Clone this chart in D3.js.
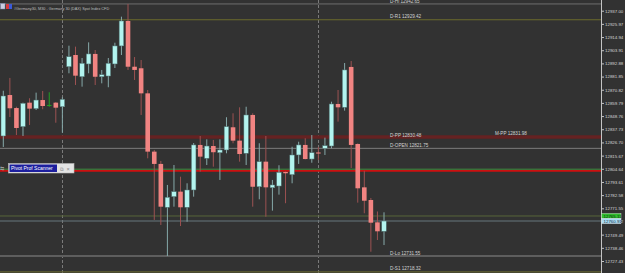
<!DOCTYPE html>
<html>
<head>
<meta charset="utf-8">
<script src="https://cdn.jsdelivr.net/npm/d3@7"></script>
<style>
  html, body { margin: 0; padding: 0; background: #323232; overflow: hidden; }
  #container svg { display: block; }
  text { font-family: "Liberation Sans", Arial, sans-serif; }
</style>
</head>
<body>
<div id="container"></div>
<script>
/*==================================================
    DATA  (#Germany30, M30)
===================================================*/
const open = [12832.1, 12866.4, 12855.5, 12839.9, 12860.0, 12855.0, 12862.2, 12858.1, 12860.0, 12856.6,
  12890.1, 12899.9, 12881.7, 12892.4, 12900.8, 12881.7, 12882.3, 12892.4, 12907.5, 12928.4,
  12890.1, 12888.8, 12867.8, 12819.0, 12808.7, 12772.4, 12781.3, 12785.5, 12772.4, 12786.9,
  12824.6, 12813.4, 12823.7, 12818.1, 12820.4, 12839.4, 12828.2, 12817.6, 12849.7, 12789.6,
  12810.6, 12788.8, 12790.2, 12802.0, 12799.7, 12816.2, 12824.6, 12812.8, 12818.3, 12821.8,
  12823.7, 12858.9, 12856.1, 12889.9, 12825.4, 12789.1, 12778.5, 12759.8, 12752.3];
const high = [12870.0, 12880.7, 12856.6, 12860.0, 12863.7, 12868.4, 12869.8, 12868.7, 12860.5, 12864.5,
  12907.7, 12906.9, 12897.4, 12910.5, 12904.1, 12887.4, 12897.4, 12910.2, 12932.0, 12942.65,
  12898.2, 12895.7, 12870.6, 12820.4, 12811.2, 12791.1, 12807.8, 12798.0, 12792.5, 12826.2,
  12832.1, 12829.3, 12828.8, 12829.3, 12847.8, 12851.1, 12856.1, 12856.6, 12851.1, 12826.0,
  12832.1, 12795.3, 12807.6, 12802.3, 12823.1, 12827.3, 12830.2, 12832.9, 12822.9, 12830.7,
  12860.8, 12870.6, 12893.2, 12894.9, 12825.9, 12803.0, 12780.2, 12768.9, 12768.2];
const low = [12822.9, 12848.0, 12832.9, 12832.1, 12841.3, 12853.9, 12854.5, 12856.6, 12843.2, 12834.9,
  12884.6, 12874.8, 12873.4, 12884.6, 12874.8, 12876.2, 12872.9, 12889.0, 12899.9, 12887.4,
  12879.0, 12849.7, 12813.4, 12761.8, 12757.6, 12731.55, 12772.9, 12756.7, 12760.3, 12781.3,
  12802.2, 12807.8, 12806.4, 12795.3, 12817.6, 12826.0, 12810.6, 12807.8, 12772.9, 12779.1,
  12764.5, 12769.6, 12783.0, 12775.8, 12792.5, 12808.7, 12812.5, 12809.7, 12812.0, 12816.2,
  12821.8, 12844.1, 12853.3, 12805.3, 12776.3, 12767.4, 12735.2, 12745.0, 12740.8];
const close = [12865.6, 12855.3, 12838.8, 12859.5, 12855.0, 12862.2, 12857.2, 12858.1, 12855.8, 12862.8,
  12898.5, 12882.6, 12893.0, 12900.8, 12881.7, 12883.4, 12893.0, 12907.5, 12928.4, 12890.1,
  12887.4, 12867.8, 12819.0, 12808.7, 12772.9, 12780.8, 12785.5, 12772.4, 12786.9, 12824.6,
  12814.8, 12823.7, 12818.5, 12820.4, 12839.9, 12828.2, 12817.0, 12849.7, 12789.6, 12810.6,
  12789.1, 12791.1, 12801.7, 12800.9, 12816.2, 12824.6, 12812.8, 12818.1, 12817.4, 12824.0,
  12858.9, 12856.1, 12887.4, 12824.6, 12788.3, 12777.9, 12759.5, 12752.3, 12760.91];

// price scale labels
const priceTicks = [12937.00, 12925.97, 12914.94, 12903.91, 12892.88, 12881.85, 12870.82, 12859.79,
  12848.76, 12837.73, 12826.70, 12815.67, 12804.64, 12793.61, 12782.58, 12771.55, 12760.52,
  12749.49, 12738.46, 12727.43];

// pivot levels
const pivotNames = ['D-Hi', 'D-R1', 'M-PP', 'D-PP', 'D-OPEN', 'D-Lo', 'D-S1'];
const pivotValues = [12942.65, 12929.42, 12831.98, 12830.48, 12821.75, 12731.55, 12718.32];

// other chart lines
const askPrice = 12765.11;
const bidPrice = 12760.91;
const extraLevels = [12804.3, 12803.4];   // green / red
const daySeparators = [9, 48];

/*==================================================
    CANVAS
===================================================*/
const W = 625, H = 273;
const plotRight = 601;

const container = d3.select('#container');
const svg = container.append('svg')
  .attr('width', W)
  .attr('height', H);

svg.append('rect')
  .attr('width', W).attr('height', H)
  .attr('fill', '#323232');

// scales
const xScale = d3.scaleLinear()
  .domain([0, open.length - 1])
  .range([3.3, 384]);

const yScale = d3.scaleLinear()
  .domain([12727.43, 12937.00])
  .range([261, 10.7]);

const crisp = v => Math.round(v) + 0.5;

/*==================================================
    SEPARATORS + LEVEL LINES
===================================================*/
svg.selectAll('.sep')
  .data(daySeparators)
  .enter()
  .append('line')
  .attr('class', 'sep')
  .attr('x1', d => crisp(xScale(d) - 0.5)).attr('x2', d => crisp(xScale(d) - 0.5))
  .attr('y1', 0).attr('y2', H)
  .attr('stroke', '#7a7a7a')
  .attr('stroke-width', 1)
  .attr('stroke-dasharray', '3,2');

const pivotStyle = {
  'D-Hi':   { color: '#6e6e6e', w: 1,   tx: 390 },
  'D-R1':   { color: '#6c6b2c', w: 1,   tx: 390 },
  'M-PP':   { color: '#652222', w: 1.6, tx: 495 },
  'D-PP':   { color: '#652222', w: 1.6, tx: 390 },
  'D-OPEN': { color: '#7c7c7c', w: 1,   tx: 390 },
  'D-Lo':   { color: '#5e5e5e', w: 2,   tx: 390 },
  'D-S1':   { color: '#626230', w: 1.3, tx: 390 }
};

const pivots = pivotNames.map((n, i) => ({ name: n, value: pivotValues[i] }));

svg.selectAll('.pivot')
  .data(pivots)
  .enter()
  .append('line')
  .attr('class', 'pivot')
  .attr('x1', 0).attr('x2', plotRight)
  .attr('y1', d => yScale(d.value)).attr('y2', d => yScale(d.value))
  .attr('stroke', d => pivotStyle[d.name].color)
  .attr('stroke-width', d => pivotStyle[d.name].w);

// ask / bid lines
svg.append('line')
  .attr('x1', 0).attr('x2', plotRight)
  .attr('y1', yScale(askPrice)).attr('y2', yScale(askPrice))
  .attr('stroke', '#58663a').attr('stroke-width', 1);
svg.append('line')
  .attr('x1', 0).attr('x2', plotRight)
  .attr('y1', yScale(bidPrice)).attr('y2', yScale(bidPrice))
  .attr('stroke', '#66767c').attr('stroke-width', 1);

// green + red levels
svg.append('line')
  .attr('x1', 0).attr('x2', plotRight)
  .attr('y1', yScale(extraLevels[0])).attr('y2', yScale(extraLevels[0]))
  .attr('stroke', '#3f8f3f').attr('stroke-width', 1);
svg.append('line')
  .attr('x1', 0).attr('x2', plotRight)
  .attr('y1', yScale(extraLevels[1]) + 0.6).attr('y2', yScale(extraLevels[1]) + 0.6)
  .attr('stroke', '#cc1010').attr('stroke-width', 1.8);

/*==================================================
    CANDLES
===================================================*/
const candles = open.map((o, i) => ({ i, o, h: high[i], l: low[i], c: close[i] }));
const kind = d => d.c > d.o ? 'bull' : (d.c < d.o ? 'bear' : 'doji');
const wickColor = { bull: '#86a9a9', bear: '#9c5252', doji: '#22a022' };
const bodyColor = { bull: '#b3f4ef', bear: '#f18482', doji: '#22a022' };
const bodyW = 4.6;

const cg = svg.append('g').attr('class', 'candles');

cg.selectAll('.wick')
  .data(candles)
  .enter()
  .append('line')
  .attr('class', 'wick')
  .attr('x1', d => xScale(d.i)).attr('x2', d => xScale(d.i))
  .attr('y1', d => yScale(d.h)).attr('y2', d => yScale(d.l))
  .attr('stroke', d => wickColor[kind(d)])
  .attr('stroke-width', 1);

cg.selectAll('.body')
  .data(candles)
  .enter()
  .append('rect')
  .attr('class', 'body')
  .attr('x', d => xScale(d.i) - bodyW / 2)
  .attr('width', bodyW)
  .attr('y', d => yScale(Math.max(d.o, d.c)))
  .attr('height', d => Math.max(1, Math.abs(yScale(d.o) - yScale(d.c))))
  .attr('fill', d => bodyColor[kind(d)])
  .attr('stroke', d => kind(d) === 'bull' ? '#4d6f6f' : 'none')
  .attr('stroke-width', 0.5);

/*==================================================
    PRICE AXIS
===================================================*/
svg.append('rect')
  .attr('x', plotRight).attr('y', 0)
  .attr('width', W - plotRight).attr('height', H)
  .attr('fill', '#323232');

svg.append('line')
  .attr('x1', plotRight + 0.5).attr('x2', plotRight + 0.5)
  .attr('y1', 0).attr('y2', H)
  .attr('stroke', '#c4c4c4');

const yAxis = d3.axisRight(yScale)
  .tickValues(priceTicks)
  .tickFormat(d3.format('.2f'))
  .tickSize(2.5)
  .tickPadding(1);

const axisG = svg.append('g')
  .attr('transform', `translate(${plotRight + 0.5}, 0)`)
  .call(yAxis);
axisG.select('.domain').remove();
axisG.selectAll('line').attr('stroke', '#c4c4c4');
axisG.selectAll('text')
  .attr('fill', '#d6d6d6')
  .style('font-size', '4.4px')
  .style('font-family', '"Liberation Sans", Arial, sans-serif');

// ask / bid boxes
const boxes = [
  { v: askPrice, fill: '#2fbf2f', text: '#0c2a0c' },
  { v: bidPrice, fill: '#a9ddf5', text: '#1a2a3a' }
];
const boxG = svg.selectAll('.pbox')
  .data(boxes)
  .enter()
  .append('g')
  .attr('class', 'pbox')
  .attr('transform', d => `translate(${plotRight + 0.5}, ${yScale(d.v)})`);
boxG.append('rect')
  .attr('x', 0).attr('y', -2.6)
  .attr('width', 19.5).attr('height', 5.2)
  .attr('fill', d => d.fill)
  .attr('stroke', '#e8e8e8').attr('stroke-width', 0.4);
boxG.append('text')
  .attr('x', 2).attr('y', 1.6)
  .attr('fill', d => d.text)
  .style('font-size', '4.4px')
  .text(d => d3.format('.2f')(d.v));

/*==================================================
    PIVOT LABELS
===================================================*/
svg.selectAll('.plabel')
  .data(pivots)
  .enter()
  .append('text')
  .attr('class', 'plabel')
  .attr('x', d => pivotStyle[d.name].tx)
  .attr('y', d => yScale(d.value) - 1.4)
  .attr('fill', '#d2d2d2')
  .style('font-size', '4.6px')
  .text(d => `${d.name} ${d3.format('.2f')(d.value)}`);

/*==================================================
    TITLE + SCANNER PANEL
===================================================*/
svg.append('rect').attr('x', 0.5).attr('y', 3.5).attr('width', 4.5).attr('height', 5.5)
  .attr('fill', '#c9cde0').attr('stroke', '#8088a8').attr('stroke-width', 0.5);
svg.append('rect').attr('x', 6).attr('y', 4).attr('width', 3).attr('height', 5).attr('fill', '#d83a3a');
svg.append('rect').attr('x', 9).attr('y', 4).attr('width', 3).attr('height', 5).attr('fill', '#3a5ad8');

svg.append('text')
  .attr('x', 14).attr('y', 9.5)
  .attr('fill', '#bdbdbd')
  .style('font-size', '3.8px')
  .text('#Germany30, M30 - Germany 30 (DAX) Spot Index CFD');

const panel = svg.append('g').attr('transform', 'translate(8, 163)');
svg.append('text')
  .attr('x', 0).attr('y', 169.5)
  .attr('fill', '#9a9a9a')
  .style('font-size', '5px')
  .text('⇆');
panel.append('rect')
  .attr('x', 0.5).attr('y', 0.5).attr('width', 65.5).attr('height', 9.5)
  .attr('fill', '#e4e4e4').attr('stroke', '#b8b8b8').attr('stroke-width', 0.6);
panel.append('rect')
  .attr('x', 1.5).attr('y', 1.5).attr('width', 47.5).attr('height', 7.5)
  .attr('fill', '#1d1f9e');
panel.append('text')
  .attr('x', 3).attr('y', 7.3)
  .attr('fill', '#ffffff')
  .style('font-size', '5px')
  .text('Pivot Prof Scanner');
panel.append('text')
  .attr('x', 51.5).attr('y', 7.5)
  .attr('fill', '#8a8a8a')
  .style('font-size', '5px')
  .text('⧉');
panel.append('text')
  .attr('x', 58.5).attr('y', 7.5)
  .attr('fill', '#8a8a8a')
  .style('font-size', '5.5px')
  .text('×');
</script>
</body>
</html>
